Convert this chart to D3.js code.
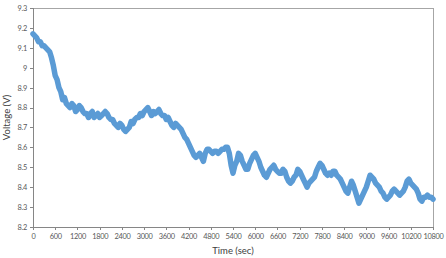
<!DOCTYPE html>
<html>
<head>
<meta charset="utf-8">
<script src="https://cdn.jsdelivr.net/npm/d3@7"></script>
<style>
  html, body { margin: 0; padding: 0; background: #fff; }
  svg { display: block; font-family: Lato, "Open Sans", sans-serif; }
</style>
</head>
<body>
<div id="chart"></div>
<script>
// one reading every 50 s, 0 .. 10800
var timeSec = d3.range(0, 10801, 50);
var voltage = [
  9.17, 9.16, 9.15, 9.13, 9.13, 9.11, 9.11, 9.10, 9.09, 9.08,
  9.05, 9.01, 8.96, 8.94, 8.90, 8.88, 8.84, 8.85, 8.82, 8.81,
  8.80, 8.82, 8.81, 8.78, 8.79, 8.81, 8.80, 8.78, 8.77, 8.77,
  8.75, 8.77, 8.78, 8.75, 8.76, 8.77, 8.75, 8.76, 8.77, 8.78,
  8.77, 8.75, 8.74, 8.74, 8.72, 8.71, 8.70, 8.72, 8.71, 8.69,
  8.68, 8.69, 8.70, 8.73, 8.72, 8.74, 8.75, 8.75, 8.77, 8.76,
  8.78, 8.79, 8.80, 8.78, 8.76, 8.78, 8.77, 8.78, 8.79, 8.77,
  8.76, 8.76, 8.74, 8.75, 8.73, 8.71, 8.70, 8.72, 8.71, 8.70,
  8.69, 8.67, 8.65, 8.64, 8.62, 8.60, 8.58, 8.56, 8.55, 8.56,
  8.57, 8.55, 8.53, 8.57, 8.59, 8.59, 8.58, 8.57, 8.58, 8.58,
  8.57, 8.58, 8.59, 8.59, 8.60, 8.60, 8.57, 8.51, 8.47, 8.51,
  8.53, 8.57, 8.56, 8.53, 8.51, 8.49, 8.49, 8.52, 8.54, 8.56,
  8.57, 8.55, 8.53, 8.50, 8.48, 8.46, 8.45, 8.47, 8.49, 8.50,
  8.51, 8.49, 8.48, 8.47, 8.47, 8.49, 8.48, 8.45, 8.43, 8.42,
  8.43, 8.45, 8.46, 8.49, 8.48, 8.46, 8.44, 8.42, 8.40, 8.42,
  8.43, 8.44, 8.45, 8.48, 8.50, 8.52, 8.51, 8.49, 8.47, 8.46,
  8.47, 8.46, 8.48, 8.48, 8.46, 8.45, 8.44, 8.42, 8.40, 8.38,
  8.37, 8.40, 8.43, 8.41, 8.38, 8.35, 8.32, 8.34, 8.36, 8.38,
  8.40, 8.43, 8.46, 8.45, 8.44, 8.42, 8.41, 8.40, 8.38, 8.37,
  8.35, 8.34, 8.35, 8.36, 8.38, 8.39, 8.38, 8.37, 8.36, 8.37,
  8.38, 8.40, 8.43, 8.44, 8.42, 8.41, 8.40, 8.39, 8.37, 8.34,
  8.33, 8.35, 8.35, 8.36, 8.35, 8.35, 8.34
];
var xTicks = [0, 600, 1200, 1800, 2400, 3000, 3600, 4200, 4800, 5400,
  6000, 6600, 7200, 7800, 8400, 9000, 9600, 10200, 10800];
var yTicks = [8.2, 8.3, 8.4, 8.5, 8.6, 8.7, 8.8, 8.9, 9, 9.1, 9.2, 9.3];

var width = 446, height = 258;
var margin = {top: 8, right: 13, bottom: 31, left: 33};
var w = width - margin.left - margin.right;
var h = height - margin.top - margin.bottom;

var svg = d3.select('#chart').append('svg')
  .attr('width', width)
  .attr('height', height);
var g = svg.append('g')
  .attr('transform', 'translate(' + margin.left + ',' + margin.top + ')');

var x = d3.scaleLinear().domain([0, 10800]).range([0, w]);
var y = d3.scaleLinear().domain([8.2, 9.3]).range([h, 0]);

// frame
g.append('rect')
  .attr('x', 0).attr('y', 0)
  .attr('width', w).attr('height', h)
  .attr('fill', 'none')
  .attr('stroke', '#a6a6a6')
  .attr('stroke-width', 1)
  .attr('shape-rendering', 'crispEdges');

var xAxis = g.append('g')
  .attr('transform', 'translate(0,' + h + ')')
  .call(d3.axisBottom(x).tickValues(xTicks).tickSize(3).tickPadding(4).tickFormat(d3.format('d')));
var yAxis = g.append('g')
  .call(d3.axisLeft(y).tickValues(yTicks).tickSize(3).tickPadding(3).tickFormat(d3.format('~g')));

[xAxis, yAxis].forEach(function(a) {
  a.select('.domain').attr('stroke', '#868686').attr('shape-rendering', 'crispEdges');
  a.selectAll('.tick line').attr('stroke', '#868686').attr('shape-rendering', 'crispEdges');
  a.selectAll('.tick text')
    .attr('fill', '#595959')
    .style('font-size', '7.4px')
    .style('letter-spacing', '-0.3px')
    .style('font-family', 'Lato, "Open Sans", sans-serif');
});

var data = timeSec.map(function(t, i) { return {t: t, v: voltage[i]}; });
var line = d3.line()
  .x(function(d) { return x(d.t); })
  .y(function(d) { return y(d.v); });

g.append('path')
  .datum(data)
  .attr('fill', 'none')
  .attr('stroke', '#5b9bd5')
  .attr('stroke-width', 5.5)
  .attr('stroke-linejoin', 'round')
  .attr('stroke-linecap', 'round')
  .attr('d', line);

svg.append('text')
  .attr('x', margin.left + w / 2)
  .attr('y', 254)
  .attr('text-anchor', 'middle')
  .attr('fill', '#404040')
  .style('font-size', '9.5px')
  .text('Time (sec)');

svg.append('text')
  .attr('transform', 'translate(10,' + (margin.top + h / 2) + ') rotate(-90)')
  .attr('text-anchor', 'middle')
  .attr('fill', '#404040')
  .style('font-size', '9.5px')
  .text('Voltage (V)');
</script>
</body>
</html>
